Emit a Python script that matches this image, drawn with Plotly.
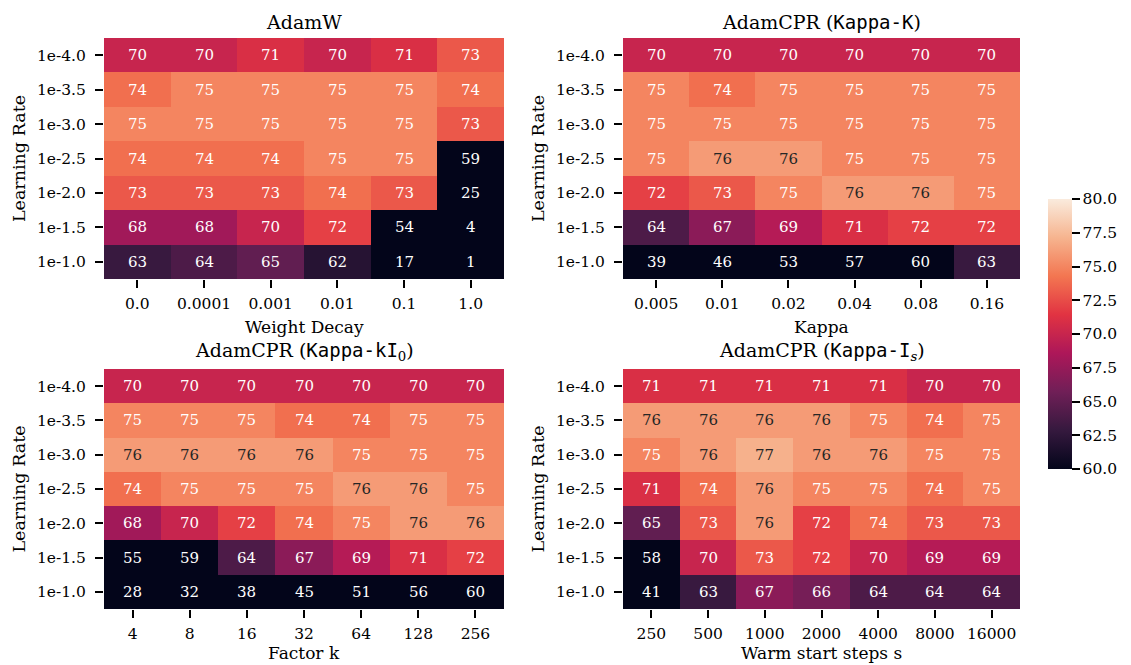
import plotly.graph_objects as go

rows = ["1e-4.0", "1e-3.5", "1e-3.0", "1e-2.5", "1e-2.0", "1e-1.5", "1e-1.0"]

adamw_cols = ["0.0", "0.0001", "0.001", "0.01", "0.1", "1.0"]
adamw_vals = [
    [70, 70, 71, 70, 71, 73],
    [74, 75, 75, 75, 75, 74],
    [75, 75, 75, 75, 75, 73],
    [74, 74, 74, 75, 75, 59],
    [73, 73, 73, 74, 73, 25],
    [68, 68, 70, 72, 54, 4],
    [63, 64, 65, 62, 17, 1],
]

kappa_cols = ["0.005", "0.01", "0.02", "0.04", "0.08", "0.16"]
kappa_vals = [
    [70, 70, 70, 70, 70, 70],
    [75, 74, 75, 75, 75, 75],
    [75, 75, 75, 75, 75, 75],
    [75, 76, 76, 75, 75, 75],
    [72, 73, 75, 76, 76, 75],
    [64, 67, 69, 71, 72, 72],
    [39, 46, 53, 57, 60, 63],
]

factor_cols = ["4", "8", "16", "32", "64", "128", "256"]
factor_vals = [
    [70, 70, 70, 70, 70, 70, 70],
    [75, 75, 75, 74, 74, 75, 75],
    [76, 76, 76, 76, 75, 75, 75],
    [74, 75, 75, 75, 76, 76, 75],
    [68, 70, 72, 74, 75, 76, 76],
    [55, 59, 64, 67, 69, 71, 72],
    [28, 32, 38, 45, 51, 56, 60],
]

warm_cols = ["250", "500", "1000", "2000", "4000", "8000", "16000"]
warm_vals = [
    [71, 71, 71, 71, 71, 70, 70],
    [76, 76, 76, 76, 75, 74, 75],
    [75, 76, 77, 76, 76, 75, 75],
    [71, 74, 76, 75, 75, 74, 75],
    [65, 73, 76, 72, 74, 73, 73],
    [58, 70, 73, 72, 70, 69, 69],
    [41, 63, 67, 66, 64, 64, 64],
]

cbar_ticks = [60, 62.5, 65, 67.5, 70, 72.5, 75, 77.5, 80]

mono = "font-family:'DejaVu Sans Mono'"
titles = [
    "AdamW",
    f"AdamCPR (<span style=\"{mono}\">Kappa-K</span>)",
    f"AdamCPR (<span style=\"{mono}\">Kappa-kI</span><sub>0</sub>)",
    f"AdamCPR (<span style=\"{mono}\">Kappa-I</span><sub><i>s</i></sub>)",
]
xtitles = ["Weight Decay", "Kappa", "Factor k", "Warm start steps s"]

rocket = [
    [0.0, "#03051a"],
    [1 / 7, "#35193e"],
    [2 / 7, "#701f57"],
    [3 / 7, "#ad1759"],
    [4 / 7, "#e13342"],
    [5 / 7, "#f37651"],
    [6 / 7, "#f6b48f"],
    [1.0, "#faebdd"],
]

# page body has an 8px default margin -> figure is 8px smaller, coords shifted
OFF = 8
W, H = 1131 - OFF, 665 - OFF


def px(x):
    return (x - OFF) / W


def py(y):
    return 1 - (y - OFF) / H


serif = "DejaVu Serif"
xdom = [[px(104), px(504)], [px(623), px(1020)]]
ydom = [[py(279), py(38)], [py(609), py(369)]]
xtitle_y = [py(327), py(653)]

panels = [
    (adamw_cols, adamw_vals, 0, 0),
    (kappa_cols, kappa_vals, 1, 0),
    (factor_cols, factor_vals, 0, 1),
    (warm_cols, warm_vals, 1, 1),
]

fig = go.Figure()
annotations = []
layout = {}
for i, (cols, vals, cx, cy) in enumerate(panels):
    n = "" if i == 0 else str(i + 1)
    xi = list(range(len(cols)))
    yi = list(range(len(rows)))
    fig.add_trace(go.Heatmap(
        x=xi, y=yi, z=vals, coloraxis="coloraxis",
        xaxis="x" + n, yaxis="y" + n, hoverinfo="skip",
    ))
    layout["xaxis" + n] = dict(
        domain=xdom[cx], anchor="y" + n, range=[-0.5, len(cols) - 0.5],
        tickmode="array", tickvals=xi, ticktext=cols,
        ticks="outside", ticklen=8, tickwidth=1.6, tickcolor="black",
        ticklabelstandoff=2,
        showgrid=False, zeroline=False, showline=False,
        tickfont=dict(family=serif, size=15.5, color="black"),
    )
    layout["yaxis" + n] = dict(
        domain=ydom[cy], anchor="x" + n, range=[len(rows) - 0.5, -0.5],
        tickmode="array", tickvals=yi, ticktext=rows,
        ticks="outside", ticklen=8, tickwidth=1.6, tickcolor="black",
        ticklabelstandoff=6,
        showgrid=False, zeroline=False, showline=False,
        tickfont=dict(family=serif, size=15.5, color="black"),
        title=dict(text="Learning Rate", font=dict(family=serif, size=17.5, color="black"), standoff=6),
    )
    for r in yi:
        for c in xi:
            v = vals[r][c]
            annotations.append(dict(
                x=c, y=r, xref="x" + n, yref="y" + n, text=str(v), showarrow=False,
                font=dict(family=serif, size=15, color="#262626" if v >= 76 else "#ffffff"),
            ))
    xc = (xdom[cx][0] + xdom[cx][1]) / 2
    annotations.append(dict(
        x=xc, y=ydom[cy][1], xref="paper", yref="paper",
        xanchor="center", yanchor="bottom", yshift=3, text=titles[i], showarrow=False,
        font=dict(family=serif, size=19, color="black"),
    ))
    annotations.append(dict(
        x=xc, y=xtitle_y[cy], xref="paper", yref="paper",
        xanchor="center", yanchor="middle", text=xtitles[i], showarrow=False,
        font=dict(family=serif, size=17, color="black"),
    ))

fig.update_layout(
    width=W, height=H, margin=dict(l=0, r=0, t=0, b=0),
    paper_bgcolor="white", plot_bgcolor="white",
    annotations=annotations,
    coloraxis=dict(
        colorscale=rocket, cmin=60, cmax=80,
        colorbar=dict(
            x=px(1048), xanchor="left", y=py(469), yanchor="bottom",
            xpad=0, ypad=0,
            len=270 / H, lenmode="fraction", thickness=24, outlinewidth=0,
            ticks="outside", ticklen=8, tickwidth=1.6, tickcolor="black",
            tickvals=cbar_ticks,
            ticktext=[f"{t:.1f}" for t in cbar_ticks],
            tickfont=dict(family=serif, size=15.5, color="black"),
        ),
    ),
    showlegend=False,
    **layout,
)

fig.write_html("out.html")
